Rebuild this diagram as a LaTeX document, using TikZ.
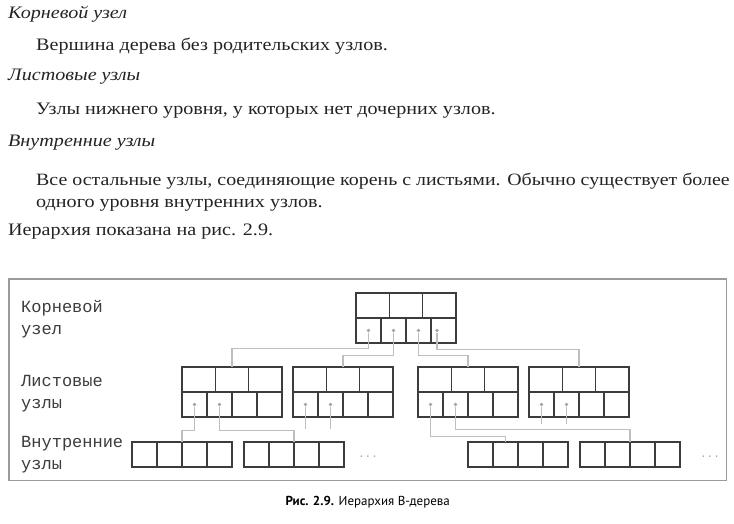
\documentclass[tikz,border=0pt]{standalone}
\usepackage{fontspec}
\setmainfont{Liberation Serif}[FakeStretch=1.15]
\newfontfamily\codefont{Liberation Mono}
\newfontfamily\capfont{PT Sans}
\usetikzlibrary{positioning,calc}
\definecolor{dfink}{RGB}{35,35,35}
\definecolor{dfbox}{RGB}{60,60,60}
\definecolor{dflink}{RGB}{190,190,190}
\definecolor{dfdot}{RGB}{165,165,165}
\definecolor{dfframe}{RGB}{155,155,155}
\tikzstyle{termtext} = [anchor=base west, inner sep=0pt, text=dfink, font=\fontsize{17.5}{17.5}\selectfont\itshape]
\tikzstyle{bodytext} = [anchor=base west, inner sep=0pt, text=dfink, align=left, font=\fontsize{17.5}{22}\selectfont]
\tikzstyle{levelname} = [anchor=base west, inner sep=0pt, text=dfbox, align=left, font=\codefont\fontsize{17}{21.5}\selectfont]
\tikzstyle{keybox} = [rectangle, draw=dfbox, line width=1.6pt, minimum width=100pt, minimum height=50pt, inner sep=0pt, outer sep=0pt]
\tikzstyle{leafbox} = [keybox, minimum height=25pt]
\tikzstyle{boxrule} = [draw=dfbox, line width=1.6pt]
\tikzstyle{ptr} = [circle, fill=dfdot, inner sep=0pt, minimum size=3.6pt]
\tikzstyle{link} = [draw=dflink, line width=1.1pt]
\tikzstyle{moredots} = [anchor=base, inner sep=0pt, text=dfdot, font=\codefont\fontsize{11}{11}\selectfont]
\tikzstyle{figframe} = [draw=dfframe, line width=1.2pt]

\begin{document}
\begin{tikzpicture}[x=1pt, y=-1pt]
\useasboundingbox (0,0) rectangle (734,523);
\node (term1) [termtext] at (8,18) {Корневой узел};
\node (text1) [bodytext] at (36,50) {Вершина дерева без родительских узлов.};
\node (term2) [termtext] at (8,80) {Листовые узлы};
\node (text2) [bodytext] at (36,114) {Узлы нижнего уровня, у которых нет дочерних узлов.};
\node (term3) [termtext] at (8,146) {Внутренние узлы};
\node (text3) [bodytext] at (36,207) {{\fontsize{17.3}{22}\selectfont Все остальные узлы, соединяющие корень с листьями. Обычно существует более}\\одного уровня внутренних узлов.};
\node (text4) [bodytext] at (8,235) {Иерархия показана на рис. 2.9.};

\draw[figframe] (9,279) rectangle (726.5,480.5);
\node (lblroot) [levelname] at (21,334) {Корневой\\узел};
\node (lblleaf) [levelname] at (21,408) {Листовые\\узлы};
\node (lblinner) [levelname] at (21,469) {Внутренние\\узлы};

\node (root) [keybox] at (406,318) {};
\node (mid1) [keybox] at (232,392) {};
\node (mid2) [keybox, right=11pt of mid1] {};
\node (mid3) [keybox] at (468,392) {};
\node (mid4) [keybox, right=11pt of mid3] {};
\node (low1) [leafbox] at (182,454.5) {};
\node (low2) [leafbox, right=12pt of low1] {};
\node (low3) [leafbox] at (518,454.5) {};
\node (low4) [leafbox, right=12pt of low3] {};
\node (more1) [moredots] at (368,457) {...};
\node (more2) [moredots] at (710,457) {...};

\foreach \n in {root,mid1,mid2,mid3,mid4}{
  \draw[boxrule] (\n.west) -- (\n.east);
  \foreach \i in {1,2} \draw[boxrule] ($(\n.north west)+(\i*100/3,0)$) -- ($(\n.west)+(\i*100/3,0)$);
  \foreach \i in {1,2,3} \draw[boxrule] ($(\n.west)+(\i*25,0)$) -- ($(\n.south west)+(\i*25,0)$);
}
\foreach \n in {low1,low2,low3,low4}
  \foreach \i in {1,2,3} \draw[boxrule] ($(\n.north west)+(\i*25,0)$) -- ($(\n.south west)+(\i*25,0)$);

\foreach \x [count=\k] in {368.5,393.5,418.5,437} \node (rp\k) [ptr] at (\x,330.5) {};
\foreach \m in {1,2,3,4}{
  \node (m\m-a) [ptr] at ($(mid\m.south west)+(12.5,-12.5)$) {};
  \node (m\m-b) [ptr] at ($(mid\m.south west)+(37.5,-12.5)$) {};
}

\draw[link] (rp1.south) -- ++(0,16.2) -| (mid1.north);
\draw[link] (rp2.south) -- ++(0,22.7) -| (mid2.north);
\draw[link] (rp3.south) -- ++(0,23.2) -| (mid3.north);
\draw[link] (rp4.south) -- ++(0,16.7) -| (mid4.north);
\draw[link] (m1-a.south) -- ++(0,23.7) -| (low1.north);
\draw[link] (m1-b.south) -- ++(0,24.2) -| (low2.north);
\draw[link] (m2-a.south) -- ++(0,22.7);
\draw[link] (m2-b.south) -- ++(0,22.7);
\draw[link] (m3-a.south) -- ++(0,29.7) -| ($(low3.north west)+(37.5,0)$);
\draw[link] (m3-b.south) -- ++(0,23.2) -| (low4.north);
\draw[link] (m4-a.south) -- ++(0,17.2);
\draw[link] (m4-b.south) -- ++(0,17.2);

\node (caption) [anchor=base, inner sep=0pt, font=\capfont\fontsize{13}{13}\selectfont] at (367.7,505.5) {\textbf{Рис. 2.9.} Иерархия B-дерева};
\end{tikzpicture}
\end{document}
